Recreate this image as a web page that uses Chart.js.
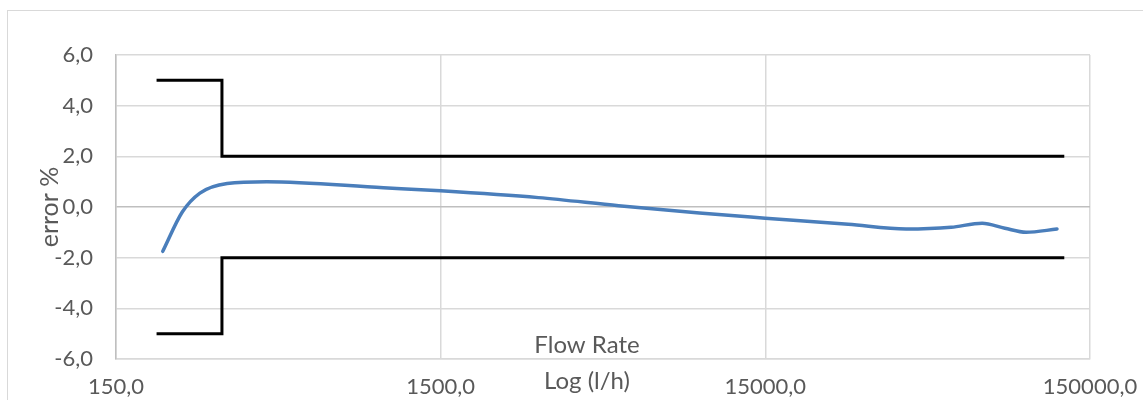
<!DOCTYPE html>
<html>
<head>
<meta charset="utf-8">
<script src="https://cdn.jsdelivr.net/npm/chart.js@4.4.1/dist/chart.umd.min.js"></script>
<style>
  body { margin: 0; overflow: hidden; background: #fff; }
  #frame { position: absolute; left: 7px; top: 10px; width: 1300px; height: 600px; border: 1px solid #d9d9d9; }
  #chart { position: absolute; left: 0; top: 0; }
</style>
</head>
<body>
<div id="frame"></div>
<canvas id="chart" width="1143" height="400"></canvas>
<script>
// measured error curve (flow in l/h, error in %)
const flowRate = [209, 240, 272, 330, 437, 1000, 1500, 3000, 5300, 9400, 15000, 27000, 40700, 56000, 69800, 82000, 95300, 118700];
const errorPct = [-1.75, -0.2, 0.55, 0.93, 1.0, 0.76, 0.64, 0.37, 0.05, -0.24, -0.44, -0.68, -0.87, -0.8, -0.64, -0.84, -1.0, -0.87];

// tolerance limits
const limitFlow = [200, 318, 318, 125000];
const upperLimit = [5, 5, 2, 2];
const lowerLimit = [-5, -5, -2, -2];

// axis ticks
const xTicks = [150, 1500, 15000, 150000];
const yTicks = [-6, -4, -2, 0, 2, 4, 6];

const toPts = (xs, ys) => xs.map((x, i) => ({ x: x, y: ys[i] }));
const fmt = v => Number(v).toFixed(1).replace(".", ",");

// extra x axis title (two lines, placed like the original)
const xTitlePlugin = {
    id: "xTitle",
    afterDraw(chart) {
        const ctx = chart.ctx;
        ctx.save();
        ctx.fillStyle = "#595959";
        ctx.font = "24px Lato";
        ctx.textAlign = "center";
        ctx.textBaseline = "middle";
        ctx.fillText("Flow Rate", 587, 345);
        ctx.fillText("Log (l/h)", 587, 381);
        ctx.restore();
    }
};

new Chart(document.getElementById("chart").getContext("2d"), {
    type: "scatter",
    data: {
        datasets: [
            {
                label: "upper",
                data: toPts(limitFlow, upperLimit),
                showLine: true,
                borderColor: "#000000",
                borderWidth: 3,
                pointRadius: 0,
                tension: 0
            },
            {
                label: "lower",
                data: toPts(limitFlow, lowerLimit),
                showLine: true,
                borderColor: "#000000",
                borderWidth: 3,
                pointRadius: 0,
                tension: 0
            },
            {
                label: "error",
                data: toPts(flowRate, errorPct),
                showLine: true,
                borderColor: "#4a7ebb",
                borderWidth: 3.5,
                pointRadius: 0,
                cubicInterpolationMode: "monotone",
                borderCapStyle: "round"
            }
        ]
    },
    options: {
        responsive: false,
        animation: false,
        devicePixelRatio: 1,
        layout: { padding: { top: 55, right: 53, left: 0, bottom: 0 } },
        plugins: {
            legend: { display: false },
            tooltip: { enabled: false }
        },
        scales: {
            x: {
                type: "logarithmic",
                min: 150,
                max: 150000,
                afterBuildTicks: s => { s.ticks = xTicks.map(v => ({ value: v })); },
                afterFit: s => { s.height = 41; s.paddingLeft = 0; s.paddingRight = 0; },
                ticks: {
                    color: "#595959",
                    font: { size: 22, family: "Lato" },
                    padding: 15,
                    maxRotation: 0,
                    autoSkip: false,
                    callback: v => fmt(v)
                },
                grid: { color: "#d9d9d9", lineWidth: 1.5, drawTicks: false },
                border: { color: "#d9d9d9", width: 1.5 }
            },
            y: {
                min: -6,
                max: 6,
                afterBuildTicks: s => { s.ticks = yTicks.map(v => ({ value: v })); },
                afterFit: s => { s.width = 116; },
                ticks: {
                    color: "#595959",
                    font: { size: 22, family: "Lato" },
                    padding: 23,
                    callback: v => fmt(v)
                },
                grid: {
                    color: c => (c.tick && c.tick.value === 0 ? "#bfbfbf" : "#d9d9d9"),
                    lineWidth: 1.5,
                    drawTicks: false
                },
                border: { color: "#bfbfbf", width: 1.5 },
                title: {
                    display: true,
                    text: "error %",
                    color: "#595959",
                    font: { size: 25, family: "Lato" },
                    padding: { top: 35, bottom: 0 }
                }
            }
        }
    },
    plugins: [xTitlePlugin]
});
</script>
</body>
</html>
